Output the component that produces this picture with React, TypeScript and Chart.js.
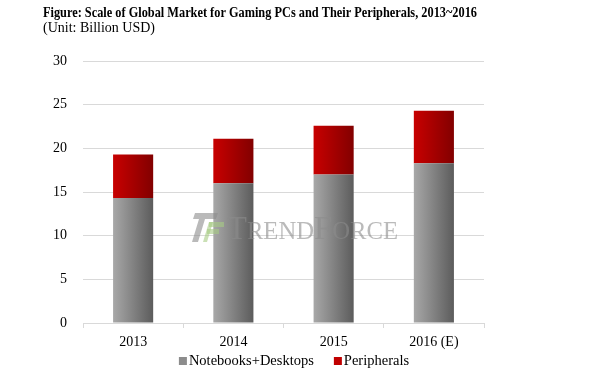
import React, { useEffect, useRef } from "react";
import { Chart, registerables } from "chart.js";

Chart.register(...registerables);

const categories = ["2013", "2014", "2015", "2016 (E)"];
const notebooksDesktops = [14.3, 16.0, 17.0, 18.3];
const peripherals = [5.0, 5.1, 5.6, 6.0];
const yTicks = [0, 5, 10, 15, 20, 25, 30];
const seriesNames = ["Notebooks+Desktops", "Peripherals"];
const titleText = "Figure: Scale of Global Market for Gaming PCs and Their Peripherals, 2013~2016";
const subtitleText = "(Unit: Billion USD)";

const SERIF = "'Liberation Serif', serif";
const legendColors = ["#8c8c8c", "#c00000"];

function gradFor(ctx: any, light: string, dark: string, fallback: string) {
  const chart = ctx.chart;
  const xs = chart.scales && chart.scales.x;
  if (!chart.chartArea || !xs || ctx.dataIndex === undefined) return fallback;
  const cx = xs.getPixelForValue(ctx.dataIndex);
  const w = (xs.width / categories.length) * 0.4;
  const g = chart.ctx.createLinearGradient(cx - w / 2, 0, cx + w / 2, 0);
  g.addColorStop(0, light);
  g.addColorStop(1, dark);
  return g;
}

const textPlugin = {
  id: "textPlugin",
  afterDraw(chart: any) {
    const c = chart.ctx;
    c.save();
    c.fillStyle = "#000";
    c.textBaseline = "alphabetic";
    c.textAlign = "left";
    c.font = `bold 15.5px ${SERIF}`;
    const tw = c.measureText(titleText).width;
    c.save();
    c.translate(43, 17);
    c.scale(434 / tw, 1);
    c.fillText(titleText, 0, 0);
    c.restore();
    c.font = `14px ${SERIF}`;
    c.fillText(subtitleText, 43, 32);

    // legend
    c.font = `14.5px ${SERIF}`;
    c.textBaseline = "middle";
    const box = 8;
    const gapBoxText = 2;
    const gapItems = 20;
    const itemWidths = seriesNames.map((n) => box + gapBoxText + c.measureText(n).width);
    const totalW = itemWidths.reduce((a, b) => a + b, 0) + gapItems * (seriesNames.length - 1);
    let lx = 294 - totalW / 2;
    const ly = 361;
    seriesNames.forEach((n, i) => {
      c.fillStyle = legendColors[i];
      c.fillRect(lx, ly - box / 2, box, box);
      c.fillStyle = "#000";
      c.fillText(n, lx + box + gapBoxText, ly);
      lx += itemWidths[i] + gapItems;
    });
    c.textBaseline = "alphabetic";

    // watermark
    c.globalAlpha = 0.6;
    c.fillStyle = "#8c8c8c";
    c.beginPath();
    c.moveTo(195, 213);
    c.lineTo(218, 213);
    c.lineTo(216, 219);
    c.lineTo(205, 219);
    c.lineTo(198, 242);
    c.lineTo(192, 242);
    c.lineTo(199, 219);
    c.lineTo(193, 219);
    c.closePath();
    c.fill();
    c.fillStyle = "#a6cc84";
    c.fillRect(209, 222, 15, 5);
    c.fillRect(207, 229, 12, 5);
    c.beginPath();
    c.moveTo(209, 222);
    c.lineTo(213, 222);
    c.lineTo(207, 242);
    c.lineTo(203, 242);
    c.closePath();
    c.fill();
    c.fillStyle = "#8c8c8c";
    let x = 227;
    const base = 239;
    const parts: [string, number][] = [["T", 33], ["REND", 25], ["F", 33], ["ORCE", 25]];
    const widths = parts.map(([t, s]) => {
      c.font = `${s}px ${SERIF}`;
      return c.measureText(t).width;
    });
    const total = widths.reduce((a, b) => a + b, 0);
    const k = 171 / total;
    parts.forEach(([t, s], i) => {
      c.font = `${s}px ${SERIF}`;
      c.save();
      c.translate(x, base);
      c.scale(k, 1);
      c.fillText(t, 0, 0);
      c.restore();
      x += widths[i] * k;
    });
    c.restore();
  },
};

export default function App() {
  const ref = useRef<HTMLCanvasElement>(null);
  useEffect(() => {
    document.body.style.margin = "0";
    const chart = new Chart(ref.current!, {
      type: "bar",
      data: {
        labels: categories,
        datasets: [
          {
            label: seriesNames[0],
            data: notebooksDesktops,
            backgroundColor: (ctx: any) => gradFor(ctx, "#a8a8a8", "#5c5c5c", "#8c8c8c"),
            borderWidth: 0,
            barPercentage: 0.4,
            categoryPercentage: 1,
          },
          {
            label: seriesNames[1],
            data: peripherals,
            backgroundColor: (ctx: any) => gradFor(ctx, "#c80000", "#820000", "#c00000"),
            borderWidth: 0,
            barPercentage: 0.4,
            categoryPercentage: 1,
          },
        ],
      },
      options: {
        animation: false,
        responsive: false,
        layout: { padding: { top: 61, left: 43, right: 116, bottom: 23 } },
        plugins: {
          legend: { display: false },
          tooltip: { enabled: false },
        },
        scales: {
          x: {
            stacked: true,
            grid: { offset: true, drawOnChartArea: false, tickLength: 5, color: "#d9d9d9" },
            border: { color: "#d9d9d9" },
            ticks: { color: "#000", font: { family: SERIF, size: 14 }, padding: 6 },
            afterFit: (s: any) => {
              s.height = 27;
            },
          },
          y: {
            stacked: true,
            min: 0,
            max: 30,
            afterBuildTicks: (s: any) => {
              s.ticks = yTicks.map((v) => ({ value: v }));
            },
            afterFit: (s: any) => {
              s.width = 40;
            },
            grid: { drawTicks: false, color: "#d9d9d9" },
            border: { display: false },
            ticks: { color: "#000", font: { family: SERIF, size: 14 }, padding: 16 },
          },
        },
      },
      plugins: [textPlugin],
    });
    return () => chart.destroy();
  }, []);
  return (
    <div style={{ position: "absolute", left: 0, top: 0, width: 600, height: 373, background: "#fff" }}>
      <canvas ref={ref} width={600} height={373} />
    </div>
  );
}
